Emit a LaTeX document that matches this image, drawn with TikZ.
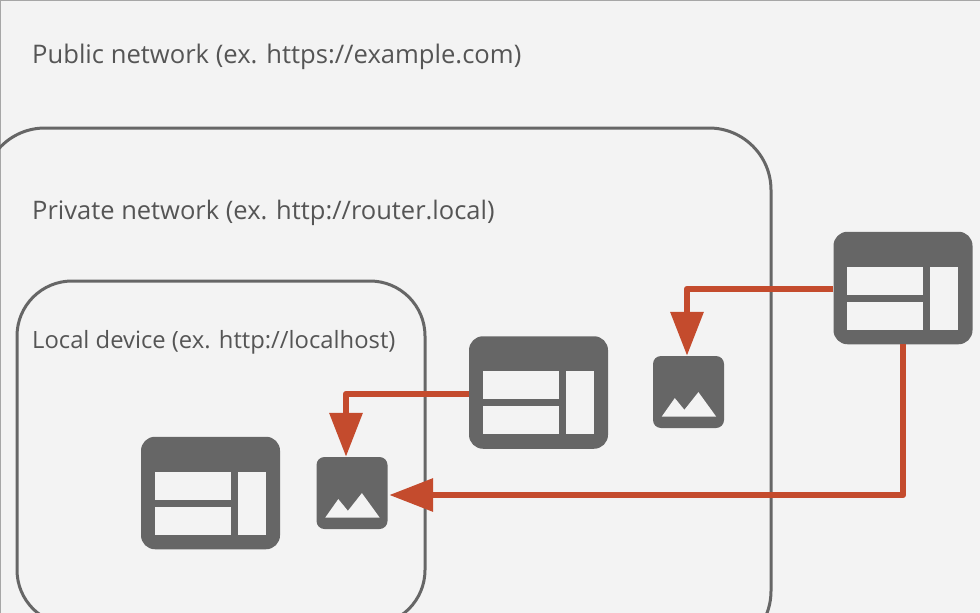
\documentclass[tikz,border=0pt]{standalone}
\usepackage{fontspec}
\setmainfont{Open Sans}
\usetikzlibrary{arrows.meta}
\definecolor{bgc}{HTML}{F3F3F3}
\definecolor{grayc}{HTML}{666666}
\definecolor{redc}{HTML}{C44B2D}
\definecolor{txtc}{HTML}{555555}
\newcommand{\winpanels}[1]{%
  \fill[bgc] ([shift={(14pt,-35pt)}]#1.north west) rectangle ([shift={(90pt,-63pt)}]#1.north west);
  \fill[bgc] ([shift={(14pt,-70pt)}]#1.north west) rectangle ([shift={(90pt,-98pt)}]#1.north west);
  \fill[bgc] ([shift={(97pt,-35pt)}]#1.north west) rectangle ([shift={(125pt,-98pt)}]#1.north west);
}
\newcommand{\imgglyph}[1]{%
  \fill[bgc] ([shift={(9pt,-60.7pt)}]#1.north west) -- ([shift={(22pt,-42.3pt)}]#1.north west) -- ([shift={(31.6pt,-54pt)}]#1.north west) -- ([shift={(45.6pt,-36.3pt)}]#1.north west) -- ([shift={(63.3pt,-60.7pt)}]#1.north west) -- cycle;
}
\tikzset{
  x=1pt,y=-1pt,
  region/.style={draw=grayc,line width=3pt,rounded corners=#1},
  winbox/.style={fill=grayc,rounded corners=14pt,minimum width=139pt,minimum height=112.5pt,inner sep=0pt},
  imgbox/.style={fill=grayc,rounded corners=8pt,minimum width=71pt,minimum height=72pt,inner sep=0pt},
  label/.style={anchor=base west,inner sep=0pt,text=txtc},
  link/.style={draw=redc,line width=6.5pt,line join=round,-{Triangle[length=44pt,width=32pt]}},
}
\begin{document}
\begin{tikzpicture}
\useasboundingbox (0,0) rectangle (980,613);
\clip (0,0) rectangle (980,613);
\fill[bgc] (0,0) rectangle (980,613);
\draw[gray!70,line width=1.2pt] (0,613) -- (0,0) -- (980,0);
\draw[region=62pt] (-17,128) rectangle (771,653);
\draw[region=55pt] (17,281) rectangle (425,625);
\node[label,font=\fontsize{25.6}{30}\selectfont] (pub) at (32,63) {Public network (ex. https://example.com)};
\node[label,font=\fontsize{25.5}{30}\selectfont] (priv) at (32,219) {Private network (ex. http://router.local)};
\node[label,font=\fontsize{23.8}{30}\selectfont] (loc) at (32,348) {Local device (ex. http://localhost)};
\node[winbox] (winA) at (210.5,493) {};
\node[winbox] (winB) at (538.5,392.5) {};
\node[winbox] (winC) at (903,288) {};
\node[imgbox] (imgA) at (352,493) {};
\node[imgbox] (imgB) at (688.5,392) {};
\winpanels{winA}\winpanels{winB}\winpanels{winC}
\imgglyph{imgA}\imgglyph{imgB}
\draw[link] ([yshift=-1pt]winC.west) -| ([xshift=-1.5pt]imgB.north);
\draw[link] ([yshift=-1.5pt]winB.west) -| ([xshift=-6pt]imgA.north);
\draw[link] (winC.south) |- ([shift={(1.5pt,-2pt)}]imgA.east);
\end{tikzpicture}
\end{document}
